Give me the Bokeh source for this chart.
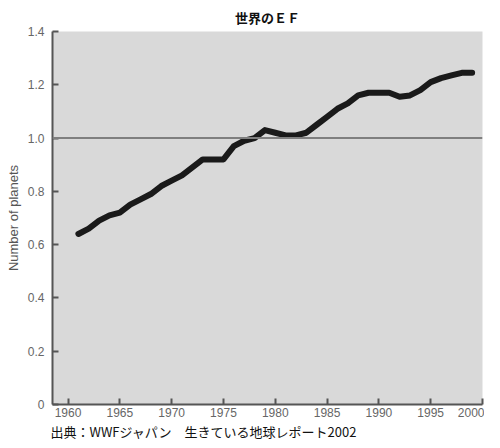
from bokeh.plotting import figure
from bokeh.models import Span, Title, FixedTicker
from bokeh.embed import file_html
from bokeh.resources import INLINE

years = list(range(1961, 2000))
planets = [0.64, 0.66, 0.69, 0.71, 0.72, 0.75, 0.77, 0.79, 0.82, 0.84,
           0.86, 0.89, 0.92, 0.92, 0.92, 0.97, 0.99, 1.00, 1.03, 1.02,
           1.01, 1.01, 1.02, 1.05, 1.08, 1.11, 1.13, 1.16, 1.17, 1.17,
           1.17, 1.155, 1.16, 1.18, 1.21, 1.225, 1.235, 1.245, 1.245]
x_ticks = list(range(1960, 2001, 5))
y_ticks = [0, 0.2, 0.4, 0.6, 0.8, 1.0, 1.2, 1.4]
y_tick_labels = ["0", "0.2", "0.4", "0.6", "0.8", "1.0", "1.2", "1.4"]
title_text = "世界のＥＦ"
source_text = "出典：WWFジャパン　生きている地球レポート2002"
y_label = "Number of planets"

p = figure(width=484, height=440, x_range=(1958.5, 2000), y_range=(0, 1.4),
           output_backend="svg", toolbar_location=None,
           min_border_left=52, min_border_right=2, min_border_top=10, min_border_bottom=0)

p.title = Title(text=title_text, align="center", text_font="Noto Sans CJK JP",
                text_font_size="13px", text_font_style="bold", text_color="#111111")
p.add_layout(Title(text=source_text, align="left", text_font="Noto Sans CJK JP",
                   text_font_size="13px", text_font_style="normal", text_color="#111111",
                   offset=-2, standoff=0), "below")

p.background_fill_color = "#d9d9d9"
p.border_fill_color = "white"
p.outline_line_color = None
p.grid.visible = False

p.line(years, planets, line_width=6, line_color="#1a1a1a", line_cap="round", line_join="round")
p.add_layout(Span(location=1.0, dimension="width", line_color="#7f7f7f", line_width=2))

for ax in (p.xaxis[0], p.yaxis[0]):
    ax.axis_line_color = "#555555"
    ax.axis_line_width = 2
    ax.major_tick_line_color = "#555555"
    ax.major_tick_line_width = 2
    ax.major_tick_in = 6
    ax.major_tick_out = 0
    ax.minor_tick_line_color = None
    ax.major_label_text_font = "Liberation Sans"
    ax.major_label_text_font_size = "12px"
    ax.major_label_text_color = "#666666"

p.xaxis.ticker = FixedTicker(ticks=x_ticks)
p.yaxis.ticker = FixedTicker(ticks=y_ticks)
p.yaxis.major_label_overrides = {t: l for t, l in zip(y_ticks, y_tick_labels)}
p.xaxis.major_label_standoff = 3
p.yaxis.major_label_standoff = 8
p.yaxis.axis_label = y_label
p.yaxis.axis_label_text_font = "Liberation Sans"
p.yaxis.axis_label_text_font_size = "13px"
p.yaxis.axis_label_text_font_style = "normal"
p.yaxis.axis_label_text_color = "#555555"
p.yaxis.axis_label_standoff = 4

open("out.html", "w").write(file_html(p, INLINE))
